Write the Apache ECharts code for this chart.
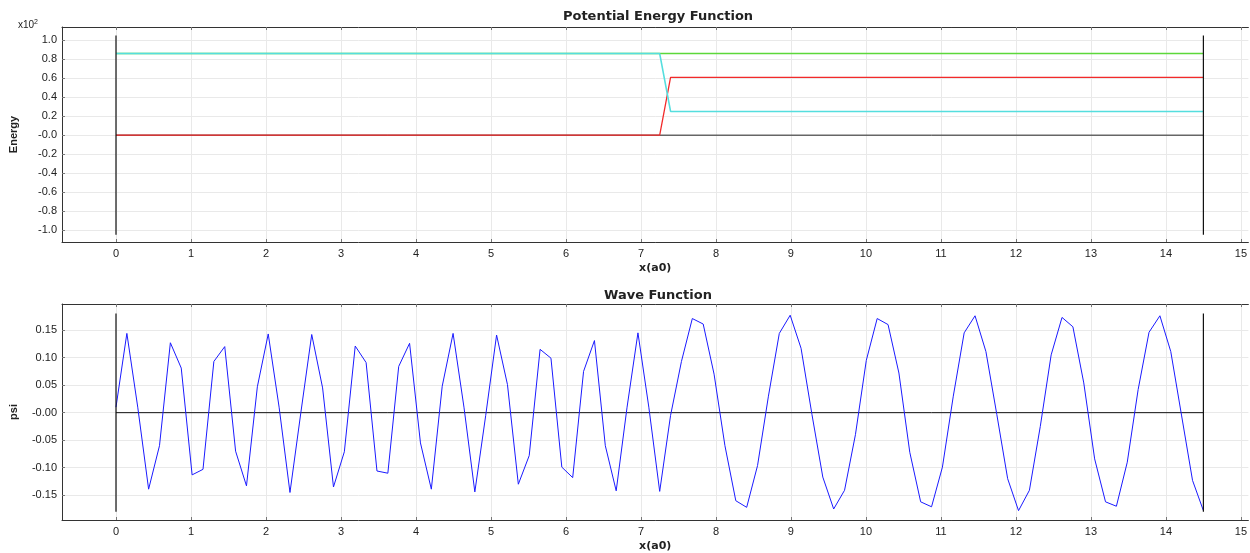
<!DOCTYPE html>
<html>
<head>
<meta charset="utf-8">
<script src="https://cdn.jsdelivr.net/npm/echarts@6/dist/echarts.min.js"></script>
<style>html,body{margin:0;padding:0;background:#fff}#c{width:1250px;height:553px}</style>
</head>
<body>
<div id="c"></div>
<script>
// ---- data ----
const xTicks = [0,1,2,3,4,5,6,7,8,9,10,11,12,13,14,15];
const energyTicks = [-100,-80,-60,-40,-20,0,20,40,60,80,100];
const energyTickLabels = ['-1.0','-0.8','-0.6','-0.4','-0.2','-0.0','0.2','0.4','0.6','0.8','1.0'];
const psiTicks = [-0.15,-0.10,-0.05,0,0.05,0.10,0.15];
const psiTickLabels = ['-0.15','-0.10','-0.05','-0.00','0.05','0.10','0.15'];

const potX = [0, 7.25, 7.395, 14.5];
const potentialV = [0, 0, 61, 61];
const totalE = [86, 86, 86, 86];
const kineticK = [86, 86, 25, 25];
const wallX = [0, 14.5];
const wallEnergy = [-105, 105];
const wallPsi = [-0.18, 0.18];

const xStart = 0, xEnd = 14.5, nSteps = 100;
const psi = [
 0.010, 0.144, 0.010,-0.139,-0.060, 0.127, 0.081,-0.113,-0.103, 0.093,
 0.120,-0.070,-0.133, 0.047, 0.143, 0.010,-0.145, 0.000, 0.142, 0.045,
-0.135,-0.071, 0.121, 0.091,-0.106,-0.110, 0.084, 0.126,-0.055,-0.139,
 0.048, 0.144, 0.010,-0.144,-0.005, 0.141, 0.051,-0.130,-0.078, 0.115,
 0.099,-0.099,-0.118, 0.075, 0.131,-0.060,-0.142, 0.010, 0.145, 0.010,
-0.143,-0.005, 0.093, 0.171, 0.161, 0.070,-0.060,-0.160,-0.172,-0.096,
 0.030, 0.144, 0.177, 0.117,-0.003,-0.117,-0.175,-0.141,-0.040, 0.095,
 0.171, 0.160, 0.072,-0.072,-0.162,-0.171,-0.099, 0.030, 0.145, 0.176,
 0.111,-0.003,-0.120,-0.178,-0.141,-0.025, 0.105, 0.173, 0.156, 0.054,
-0.084,-0.162,-0.170,-0.090, 0.042, 0.146, 0.176, 0.111,-0.006,-0.123,
-0.178
];

// ---- build ----
const dx = (xEnd - xStart) / nSteps;
const psiData = psi.map((v, i) => [xStart + i * dx, v]);
const pairs = (xs, ys) => xs.map((x, i) => [x, ys[i]]);

const FONT = 'Liberation Sans';
const gridLine = {show: true, lineStyle: {color: '#e9e9e9', width: 1}};
const frameLine = {show: true, onZero: false, lineStyle: {color: '#333', width: 1}};

function xAxes(gi) {
  return [
    {type: 'value', gridIndex: gi, min: -0.72, max: 15.1, position: 'bottom',
     axisLine: frameLine,
     axisTick: {show: true, inside: true, length: 3, lineStyle: {color: '#777'}, customValues: xTicks},
     axisLabel: {customValues: xTicks, color: '#222', fontFamily: FONT, fontSize: 11, margin: 6},
     splitLine: gridLine,
     name: 'x(a0)', nameLocation: 'middle', nameGap: 21,
     nameTextStyle: {fontFamily: 'DejaVu Sans', fontWeight: 'bold', fontSize: 11, color: '#222'}},
    {type: 'value', gridIndex: gi, min: -0.72, max: 15.1, position: 'top',
     axisLine: frameLine,
     axisTick: {show: true, inside: true, length: 3, lineStyle: {color: '#777'}, customValues: xTicks},
     axisLabel: {show: false}, splitLine: {show: false}}
  ];
}

function yAxis(gi, min, max, ticks, labels, name) {
  return {type: 'value', gridIndex: gi, min: min, max: max, position: 'left',
    axisLine: frameLine,
    axisTick: {show: true, inside: true, length: 3, lineStyle: {color: '#777'}, customValues: ticks},
    axisLabel: {customValues: ticks, color: '#222', fontFamily: FONT, fontSize: 11, margin: 5,
      formatter: v => { const k = ticks.findIndex(t => Math.abs(t - v) < 1e-9); return k >= 0 ? labels[k] : ''; }},
    splitLine: gridLine,
    name: name, nameLocation: 'middle', nameGap: 43,
    nameTextStyle: {fontFamily: FONT, fontWeight: 'bold', fontSize: 11, color: '#222'}};
}

function line(xi, yi, data, color, w, z) {
  return {type: 'line', xAxisIndex: xi, yAxisIndex: yi, data: data, showSymbol: false,
    symbol: 'none', animation: false, z: z || 2, emphasis: {disabled: true},
    lineStyle: {color: color, width: w, opacity: 1}, itemStyle: {color: color}};
}

const option = {
  animation: false,
  grid: [
    {left: 61, right: 1, top: 27, height: 215},
    {left: 61, right: 1, top: 304, height: 218}
  ],
  xAxis: xAxes(0).concat(xAxes(1)),
  yAxis: [
    yAxis(0, -112.6, 114, energyTicks, energyTickLabels, 'Energy'),
    yAxis(1, -0.195, 0.1974, psiTicks, psiTickLabels, 'psi')
  ],
  series: [
    line(0, 0, pairs(wallX, [0, 0]), '#222', 1, 2),
    line(0, 0, pairs(potX, totalE), '#5cd83a', 1.6, 3),
    line(0, 0, pairs(potX, potentialV), '#f22a2a', 1.3, 4),
    line(0, 0, pairs(potX, kineticK), '#55dede', 1.6, 5),
    line(0, 0, pairs([wallX[0], wallX[0]], wallEnergy), '#111', 1.2, 6),
    line(0, 0, pairs([wallX[1], wallX[1]], wallEnergy), '#111', 1.2, 6),
    line(2, 1, pairs(wallX, [0, 0]), '#111', 1, 2),
    line(2, 1, pairs([wallX[0], wallX[0]], wallPsi), '#111', 1.2, 6),
    line(2, 1, pairs([wallX[1], wallX[1]], wallPsi), '#111', 1.2, 6),
    line(2, 1, psiData, '#1a1aff', 1, 4)
  ],
  graphic: [
    {type: 'text', x: 658, y: 17, style: {text: 'Potential Energy Function', font: 'bold 13px "DejaVu Sans"', fill: '#222', textAlign: 'center', textVerticalAlign: 'middle'}},
    {type: 'text', x: 658, y: 296, style: {text: 'Wave Function', font: 'bold 13px "DejaVu Sans"', fill: '#222', textAlign: 'center', textVerticalAlign: 'middle'}},
    {type: 'text', x: 18, y: 19, style: {text: 'x10{s|2}', rich: {s: {fontSize: 7, verticalAlign: 'top', padding: [0,0,6,0]}}, fontFamily: FONT, fontSize: 10, fill: '#222'}}
  ]
};

const chart = echarts.init(document.getElementById('c'), null, {renderer: 'canvas'});
chart.setOption(option);
</script>
</body>
</html>
